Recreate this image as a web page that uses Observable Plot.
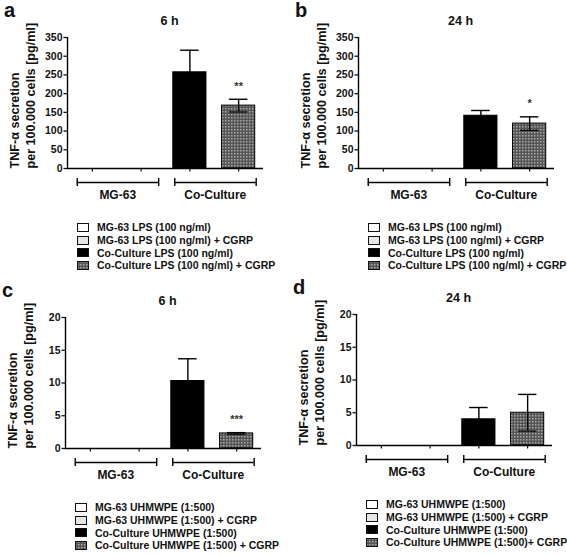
<!DOCTYPE html>
<html><head><meta charset="utf-8">
<script src="https://cdn.jsdelivr.net/npm/d3@7"></script>
<script src="https://cdn.jsdelivr.net/npm/@observablehq/plot@0.6"></script>
<style>
body{margin:0;background:#fff;}
#root{position:relative;width:567px;height:556px;overflow:hidden;font-family:"Liberation Sans",Arial,sans-serif;font-weight:bold;color:#111;}
.panel{position:absolute;width:276px;height:276px;}
.panel svg.plot{position:absolute;left:0;top:0;}
.letter{position:absolute;font-size:20px;font-weight:bold;left:4px;top:0px;line-height:20px;}
.legend{position:absolute;left:77px;top:221px;font-size:10.5px;line-height:12.8px;}
.legend .row{display:flex;align-items:center;white-space:nowrap;}
.legend svg{margin-right:8px;display:block;}
</style></head>
<body>
<svg width="0" height="0" style="position:absolute">
  <defs>
    <pattern id="chk" width="3" height="3" patternUnits="userSpaceOnUse">
      <rect width="3" height="3" fill="#555555"></rect>
      <rect x="0" y="0" width="1.5" height="1.5" fill="#a8a8a8"></rect>
    </pattern>
  </defs>
</svg>
<div id="root"></div>
<script>
// ---- data ----
const groups = ["MG-63", "Co-Culture"];
const legendLPS = ["MG-63 LPS (100 ng/ml)", "MG-63 LPS (100 ng/ml) + CGRP", "Co-Culture LPS (100 ng/ml)", "Co-Culture LPS (100 ng/ml) + CGRP"];
const legendUHMWPE_c = ["MG-63 UHMWPE (1:500)", "MG-63 UHMWPE (1:500) + CGRP", "Co-Culture UHMWPE (1:500)", "Co-Culture UHMWPE (1:500) + CGRP"];
const legendUHMWPE_d = ["MG-63 UHMWPE (1:500)", "MG-63 UHMWPE (1:500) + CGRP", "Co-Culture UHMWPE (1:500)", "Co-Culture UHMWPE (1:500)+ CGRP"];
const seriesFills = ["#ffffff", "#e6e6e6", "#000000", "url(#chk)"];

const lps6hMean = [0, 0, 257, 168];
const lps6hSD = [0, 0, 59, 17];
const lps6hSig = ["", "", "", "**"];
const lps24hMean = [0, 0, 141, 120];
const lps24hSD = [0, 0, 14, 18];
const lps24hSig = ["", "", "", "*"];
const uhm6hMean = [0, 0, 10.3, 2.3];
const uhm6hSD = [0, 0, 3.4, 0.12];
const uhm6hSig = ["", "", "", "***"];
const uhm24hMean = [0, 0, 4.0, 5.0];
const uhm24hSD = [0, 0, 1.8, 2.8];
const uhm24hSig = ["", "", "", ""];

const yTicksLPS = [0, 50, 100, 150, 200, 250, 300, 350];
const yTicksUHM = [0, 5, 10, 15, 20];
const yLabel = "TNF-α secretion\nper 100.000 cells [pg/ml]";

const panels = [
  {letter: "a", title: "6 h", mean: lps6hMean, sd: lps6hSD, sig: lps6hSig, ticks: yTicksLPS, legend: legendLPS, left: 0, top: 0},
  {letter: "b", title: "24 h", mean: lps24hMean, sd: lps24hSD, sig: lps24hSig, ticks: yTicksLPS, legend: legendLPS, left: 291, top: 0},
  {letter: "c", title: "6 h", mean: uhm6hMean, sd: uhm6hSD, sig: uhm6hSig, ticks: yTicksUHM, legend: legendUHMWPE_c, left: -2, top: 280},
  {letter: "d", title: "24 h", mean: uhm24hMean, sd: uhm24hSD, sig: uhm24hSig, ticks: yTicksUHM, legend: legendUHMWPE_d, left: 289, top: 277}
];

function makePlot(cfg) {
  const data = cfg.mean.map((m, i) => ({x: i + 1, mean: m, sd: cfg.sd[i], fill: seriesFills[i], sig: cfg.sig[i]}));
  const bars = data.filter(d => d.mean > 0);
  const brackets = groups.map((g, gi) => ({label: g, first: gi * 2 + 1, last: gi * 2 + 2}));
  const bracketEnds = brackets.flatMap(b => [b.first - 0.31, b.last + 0.36]);
  const yMax = cfg.ticks[cfg.ticks.length - 1];
  return Plot.plot({
    width: 276, height: 205,
    marginLeft: 67, marginRight: 13, marginTop: 37, marginBottom: 37,
    style: {fontFamily: "'Liberation Sans', Arial, sans-serif", fontWeight: "bold", fontSize: "10.5px", color: "#111", background: "transparent", overflow: "visible"},
    x: {domain: [0.49, 4.51]},
    y: {domain: [0, yMax]},
    color: {type: "identity"},
    marks: [
      Plot.rectY(bars, {x1: d => d.x - 0.34, x2: d => d.x + 0.34, y1: 0, y2: "mean", fill: "fill", stroke: "#000", strokeWidth: 1}),
      Plot.ruleX(bars, {x: "x", y1: d => d.mean - d.sd, y2: d => d.mean + d.sd, stroke: "#000", strokeWidth: 1.4}),
      Plot.ruleY(bars, {y: d => d.mean + d.sd, x1: d => d.x - 0.19, x2: d => d.x + 0.19, stroke: "#000", strokeWidth: 1.4}),
      Plot.ruleY(bars, {y: d => d.mean - d.sd, x1: d => d.x - 0.19, x2: d => d.x + 0.19, stroke: "#000", strokeWidth: 1.2}),
      Plot.text(data.filter(d => d.sig), {x: "x", y: d => d.mean + d.sd, text: "sig", dy: -13, fontSize: 11, fill: "#333"}),
      Plot.ruleX([0.49], {stroke: "#000", strokeWidth: 1.4}),
      Plot.ruleY([0], {stroke: "#000", strokeWidth: 1.4}),
      Plot.axisY({ticks: cfg.ticks, tickSize: 3.5, tickPadding: 1.5, label: null, strokeWidth: 1.3}),
      Plot.axisX({ticks: [1, 2, 3, 4], tickSize: 3.5, tickFormat: () => "", label: null, strokeWidth: 1.2}),
      Plot.text([yLabel], {frameAnchor: "bottom-left", text: d => d, rotate: -90, textAnchor: "start", lineAnchor: "middle", lineHeight: 1.3, dx: -45.5, fontSize: 12.6}),
      Plot.text([cfg.title], {frameAnchor: "top", text: d => d, dy: -21, dx: 4, fontSize: 12.5}),
      Plot.ruleY(brackets, {x1: d => d.first - 0.31, x2: d => d.last + 0.36, y: 0, dy: 14, stroke: "#000", strokeWidth: 1.4}),
      Plot.ruleX(bracketEnds, {x: d => d, y1: 0, y2: 0, dy: 14, insetTop: -4, insetBottom: -4, stroke: "#000", strokeWidth: 1.4}),
      Plot.text(brackets, {x: d => (d.first + d.last) / 2 + 0.02, y: 0, text: "label", dy: 27, fontSize: 12})
    ]
  });
}

const root = document.getElementById("root");
panels.forEach(cfg => {
  const div = document.createElement("div");
  div.className = "panel";
  div.style.left = cfg.left + "px";
  div.style.top = cfg.top + "px";
  const svg = makePlot(cfg);
  svg.classList.add("plot");
  div.appendChild(svg);
  const letter = document.createElement("div");
  letter.className = "letter";
  letter.textContent = cfg.letter;
  div.appendChild(letter);
  const leg = document.createElement("div");
  leg.className = "legend";
  cfg.legend.forEach((label, i) => {
    const row = document.createElement("div");
    row.className = "row";
    const sw = document.createElementNS("http://www.w3.org/2000/svg", "svg");
    sw.setAttribute("width", 12); sw.setAttribute("height", 9);
    const r = document.createElementNS("http://www.w3.org/2000/svg", "rect");
    r.setAttribute("x", 0.5); r.setAttribute("y", 0.5); r.setAttribute("width", 11); r.setAttribute("height", 8);
    r.setAttribute("fill", seriesFills[i]); r.setAttribute("stroke", "#111"); r.setAttribute("stroke-width", 1);
    sw.appendChild(r);
    row.appendChild(sw);
    const t = document.createElement("span");
    t.textContent = label;
    row.appendChild(t);
    leg.appendChild(row);
  });
  div.appendChild(leg);
  root.appendChild(div);
});
</script>
</body></html>
